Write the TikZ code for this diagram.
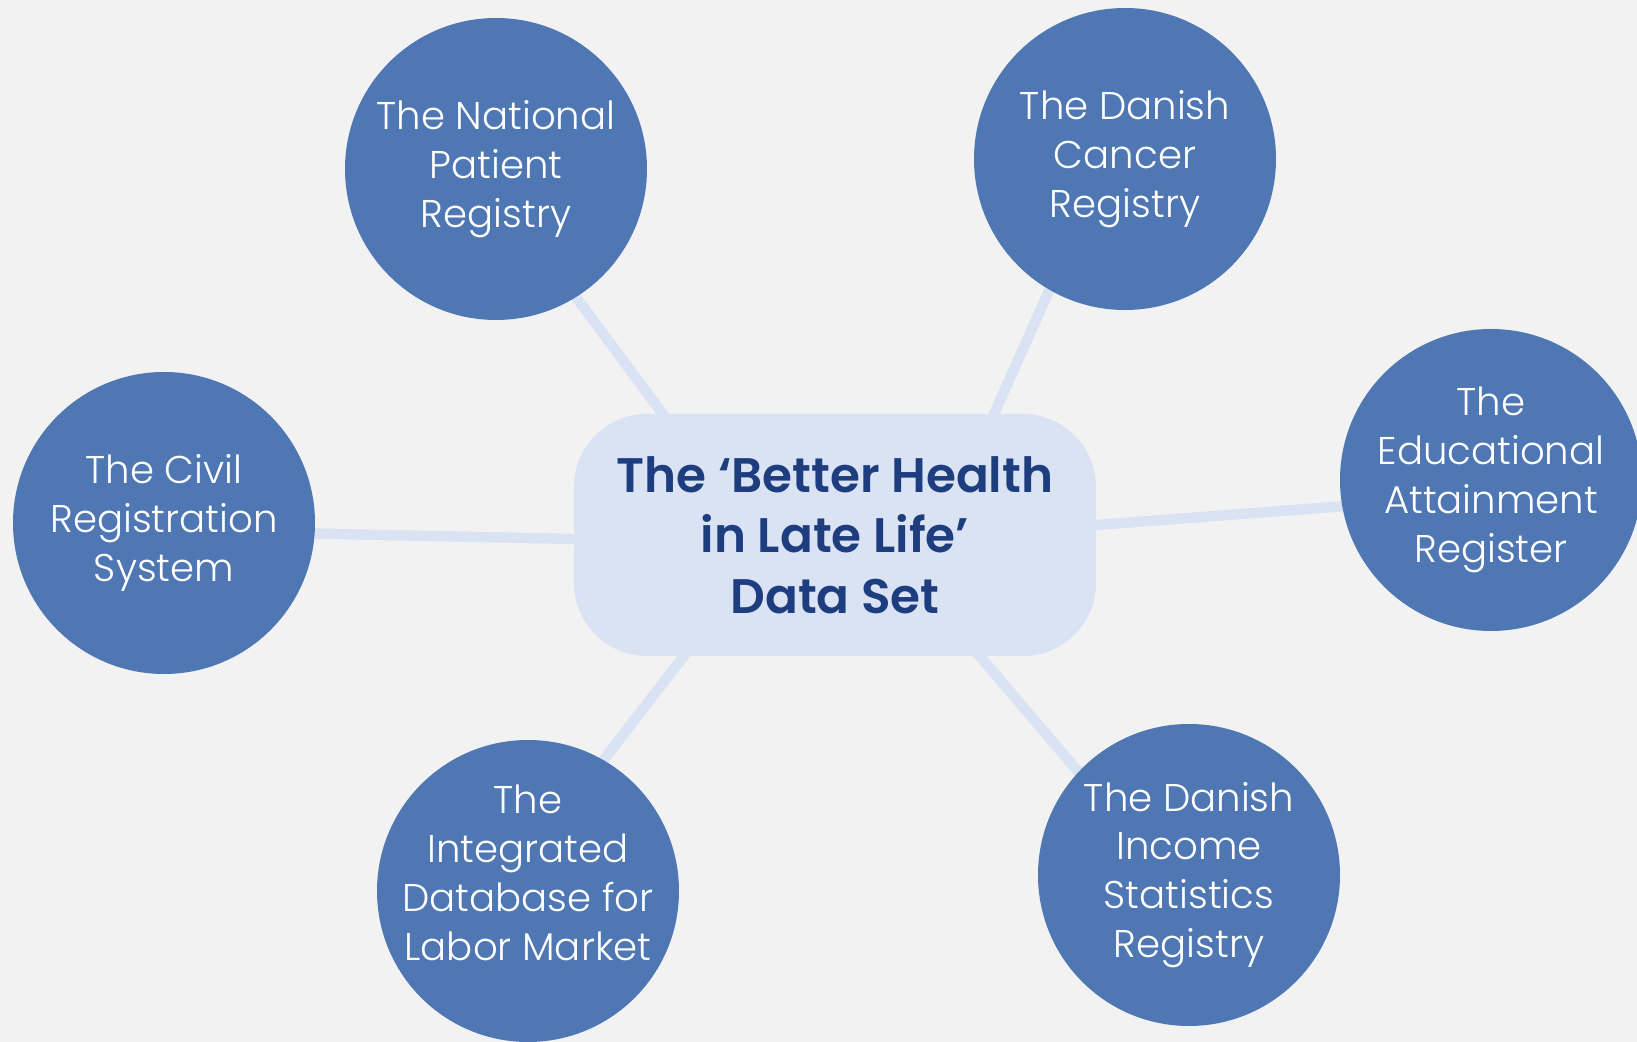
\documentclass[tikz,border=0pt]{standalone}
\usepackage{fontspec}
\setmainfont{Poppins}[UprightFont=* Light, BoldFont=* SemiBold]
\usetikzlibrary{calc}

\definecolor{pagegray}{HTML}{F2F2F2}
\definecolor{circblue}{HTML}{4E77B3}
\definecolor{hubblue}{HTML}{DAE3F3}
\definecolor{linkblue}{HTML}{DAE3F3}
\definecolor{titleblue}{HTML}{1D3D7E}

\pgfdeclarelayer{back}
\pgfdeclarelayer{links}
\pgfsetlayers{back,links,main}

\begin{document}
\begin{tikzpicture}[x=0.1mm, y=-0.1mm,
    register/.style={circle, fill=circblue, minimum size=30.2mm, inner sep=-4mm,
        text=white, align=center, font=\fontsize{11}{13.9}\selectfont},
    hubbox/.style={rectangle, rounded corners=7.3mm, fill=hubblue,
        minimum width=52.2mm, minimum height=24.2mm, text=titleblue,
        align=center, font=\fontsize{13.8}{17.2}\selectfont\bfseries},
    link/.style={draw=linkblue, line width=1.04mm, shorten <=-2mm, shorten >=-2mm}]

\useasboundingbox (0,0) rectangle (1637,1042);
\begin{pgfonlayer}{back}
    \fill[pagegray] (0,0) rectangle (1637,1042);
\end{pgfonlayer}

% the data set in the middle
\node[hubbox] (hub) at (835,535) {The ‘Better Health\\in Late Life’\\Data Set};

% the registers round it
\node[register] (patient) at (496,169) {The National\\Patient\\Registry};
\node[register] (cancer) at (1125,159) {The Danish\\Cancer\\Registry};
\node[register] (education) at (1491,480) {The\\Educational\\Attainment\\Register};
\node[register] (civil) at (164,523) {The Civil\\Registration\\System};
\node[register, text depth=10.5pt] (labor) at (528,891) {The\\Integrated\\Database for\\Labor Market};
\node[register] (income) at (1189,875) {The Danish\\Income\\Statistics\\Registry};

% links behind the shapes
\begin{pgfonlayer}{links}
    \draw[link] (patient.-58) -- ($(hub.north west)+(89,0)$);
    \draw[link] (cancer.-120) -- ($(hub.north west)+(421,0)$);
    \draw[link] (education.190) -- ($(hub.east)+(0,-10)$);
    \draw[link] (civil.-4) -- ($(hub.west)+(0,4)$);
    \draw[link] (labor.60) -- ($(hub.south west)+(110,0)$);
    \draw[link] (income.137) -- ($(hub.south west)+(407,0)$);
\end{pgfonlayer}

\end{tikzpicture}
\end{document}
